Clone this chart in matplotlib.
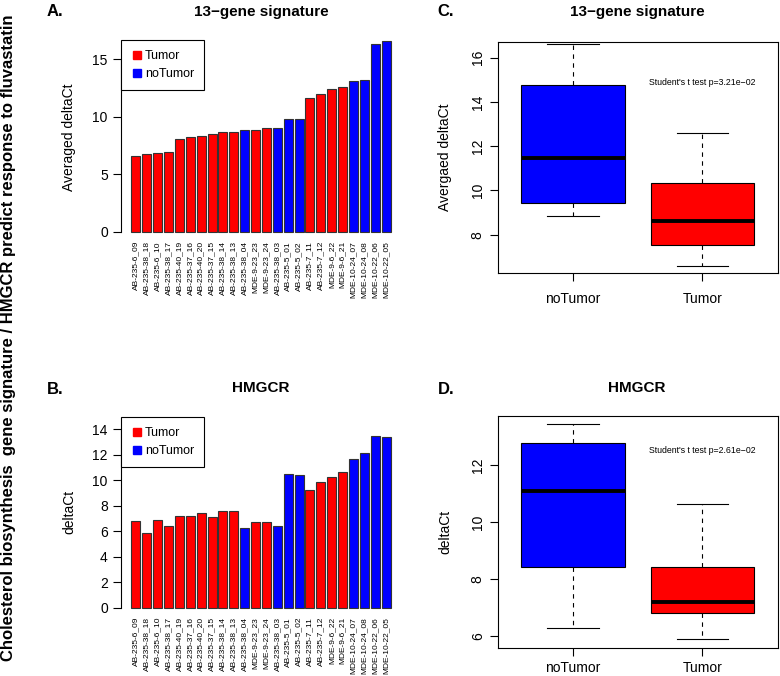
import numpy as np
import matplotlib
matplotlib.use("Agg")
from matplotlib import pyplot as plt
from matplotlib.lines import Line2D

plt.rcParams['font.family'] = ['Liberation Sans', 'DejaVu Sans']

samples = ["AB-235-6_09", "AB-235-38_18", "AB-235-6_10", "AB-235-38_17",
           "AB-235-40_19", "AB-235-37_16", "AB-235-40_20", "AB-235-37_15",
           "AB-235-38_14", "AB-235-38_13", "AB-235-38_04", "MDE-9-23_23",
           "MDE-9-23_24", "AB-235-38_03", "AB-235-5_01", "AB-235-5_02",
           "AB-235-7_11", "AB-235-7_12", "MDE-9-6_22", "MDE-9-6_21",
           "MDE-10-24_07", "MDE-10-24_08", "MDE-10-22_06", "MDE-10-22_05"]
status = ["Tumor"] * 10 + ["noTumor", "Tumor", "Tumor", "noTumor", "noTumor",
          "noTumor", "Tumor", "Tumor", "Tumor", "Tumor",
          "noTumor", "noTumor", "noTumor", "noTumor"]
sig13 = [6.6, 6.75, 6.85, 6.95, 8.1, 8.25, 8.3, 8.5, 8.7, 8.7, 8.85, 8.85,
         9.05, 9.05, 9.8, 9.8, 11.65, 12.0, 12.4, 12.6, 13.1, 13.2, 16.3, 16.6]
hmgcr = [6.85, 5.9, 6.9, 6.4, 7.2, 7.2, 7.45, 7.1, 7.6, 7.6, 6.3, 6.75,
         6.75, 6.4, 10.5, 10.45, 9.25, 9.85, 10.25, 10.65, 11.7, 12.15, 13.45, 13.4]
groups = ["noTumor", "Tumor"]
colors = {"Tumor": "#FF0000", "noTumor": "#0000FF"}
pvals = ["3.21e\u221202", "2.61e\u221202"]

W, H = 780, 676


def rect(l, r, t, b):
    return [l / W, 1 - b / H, (r - l) / W, (b - t) / H]


def fivenum(x):
    x = np.sort(np.asarray(x, dtype=float))
    n = len(x)
    n4 = np.floor((n + 3) / 2) / 2
    d = np.array([1, n4, (n + 1) / 2, n + 1 - n4, n]) - 1
    return 0.5 * (x[np.floor(d).astype(int)] + x[np.ceil(d).astype(int)])


def bar_panel(ax, values, ylim, ymax_tick, step):
    pos = 0.7 + 1.2 * np.arange(len(values))
    ax.bar(pos, values, width=1.0, color=[colors[s] for s in status],
           edgecolor='#333333', linewidth=0.8)
    ax.set_xlim(-0.944, 29.944)
    ax.set_ylim(*ylim)
    ax.set_xticks(pos)
    ax.set_xticklabels(samples, rotation=90, fontsize=6)
    ax.tick_params(axis='x', length=0, pad=1)
    ax.set_yticks(np.arange(0, ymax_tick + 0.1, step))
    ax.tick_params(axis='y', length=5.5, width=0.8, pad=4, labelsize=10)
    for s in ['top', 'right', 'bottom']:
        ax.spines[s].set_visible(False)
    ax.spines['left'].set_bounds(0, ymax_tick)
    ax.spines['left'].set_linewidth(0.8)
    handles = [Line2D([], [], marker='s', linestyle='none', color=colors[g],
                      markersize=5.5) for g in ["Tumor", "noTumor"]]
    leg = ax.legend(handles, ["Tumor", "noTumor"], loc='upper left',
                    borderaxespad=0, fontsize=9, frameon=True, fancybox=False,
                    handletextpad=0.2, handlelength=0.9, borderpad=0.8,
                    labelspacing=0.5, framealpha=1)
    leg.get_frame().set_edgecolor('black')
    leg.get_frame().set_linewidth(0.8)


def box_panel(ax, values, ylim, yticks, ptext, py, xpad):
    stats = []
    for g in groups:
        v = [val for val, s in zip(values, status) if s == g]
        lo, q1, med, q3, hi = fivenum(v)
        iqr = q3 - q1
        arr = np.array(v)
        wlo = arr[arr >= q1 - 1.5 * iqr].min()
        whi = arr[arr <= q3 + 1.5 * iqr].max()
        stats.append(dict(med=med, q1=q1, q3=q3, whislo=wlo, whishi=whi,
                          fliers=[], label=g))
    bp = ax.bxp(stats, positions=[1, 2], widths=0.8, patch_artist=True,
                showfliers=False,
                boxprops=dict(linewidth=0.8, edgecolor='black'),
                medianprops=dict(color='black', linewidth=2.8),
                whiskerprops=dict(color='black', linewidth=0.8,
                                  linestyle=(0, (4, 4))),
                capprops=dict(color='black', linewidth=0.8),
                capwidths=0.4)
    for patch, g in zip(bp['boxes'], groups):
        patch.set_facecolor(colors[g])
    ax.set_xlim(0.42, 2.58)
    ax.set_ylim(*ylim)
    ax.set_yticks(yticks)
    ax.set_yticklabels([str(t) for t in yticks], rotation=90, va='center')
    ax.tick_params(axis='both', length=5.5, width=0.8, labelsize=10)
    ax.tick_params(axis='y', pad=4)
    ax.tick_params(axis='x', pad=xpad)
    for s in ax.spines.values():
        s.set_linewidth(0.8)
    ax.text(2, py, "Student's t test p=" + ptext, ha='center', va='center',
            fontsize=6.3)


fig = plt.figure(figsize=(W / 100, H / 100), dpi=100)

axA = fig.add_axes(rect(121, 401, 40, 239.7))
bar_panel(axA, sig13, (-0.668, 16.65), 15, 5)
axB = fig.add_axes(rect(121, 401, 417, 615.5))
bar_panel(axB, hmgcr, (-0.6, 14.98), 14, 2)
axC = fig.add_axes(rect(498, 777.5, 41.7, 273.3))
box_panel(axC, sig13, (6.255, 16.72), [8, 10, 12, 14, 16], pvals[0], 14.86, 8)
axD = fig.add_axes(rect(498, 777.5, 416, 648.3))
box_panel(axD, hmgcr, (5.57, 13.73), [6, 8, 10, 12], pvals[1], 12.51, 4)

# y labels placed by pixel position
fig.text(69 / W, 1 - 137 / H, "Averaged deltaCt", rotation=90, ha='center',
         va='center', fontsize=10)
fig.text(69 / W, 1 - 512 / H, "deltaCt", rotation=90, ha='center',
         va='center', fontsize=10)
fig.text(445 / W, 1 - 157 / H, "Avergaed deltaCt", rotation=90, ha='center',
         va='center', fontsize=10)
fig.text(445 / W, 1 - 532 / H, "deltaCt", rotation=90, ha='center',
         va='center', fontsize=10)

# titles
for x, y, t in [(261, 12, "13\u2212gene signature"), (261, 388, "HMGCR"),
                (637, 12, "13\u2212gene signature"), (637, 388, "HMGCR")]:
    fig.text(x / W, 1 - y / H, t, ha='center', va='center', fontsize=11,
             fontweight='bold')
for x, y, t in [(55, 12, "A."), (55, 390, "B."), (446, 12, "C."), (446, 390, "D.")]:
    fig.text(x / W, 1 - y / H, t, ha='center', va='center', fontsize=12,
             fontweight='bold')

fig.text(9 / W, 0.5, "Cholesterol biosynthesis  gene signature / HMGCR predict "
         "response to fluvastatin", rotation=90, ha='center', va='center',
         fontsize=12, fontweight='bold')

fig.savefig("out.png", dpi=100)
